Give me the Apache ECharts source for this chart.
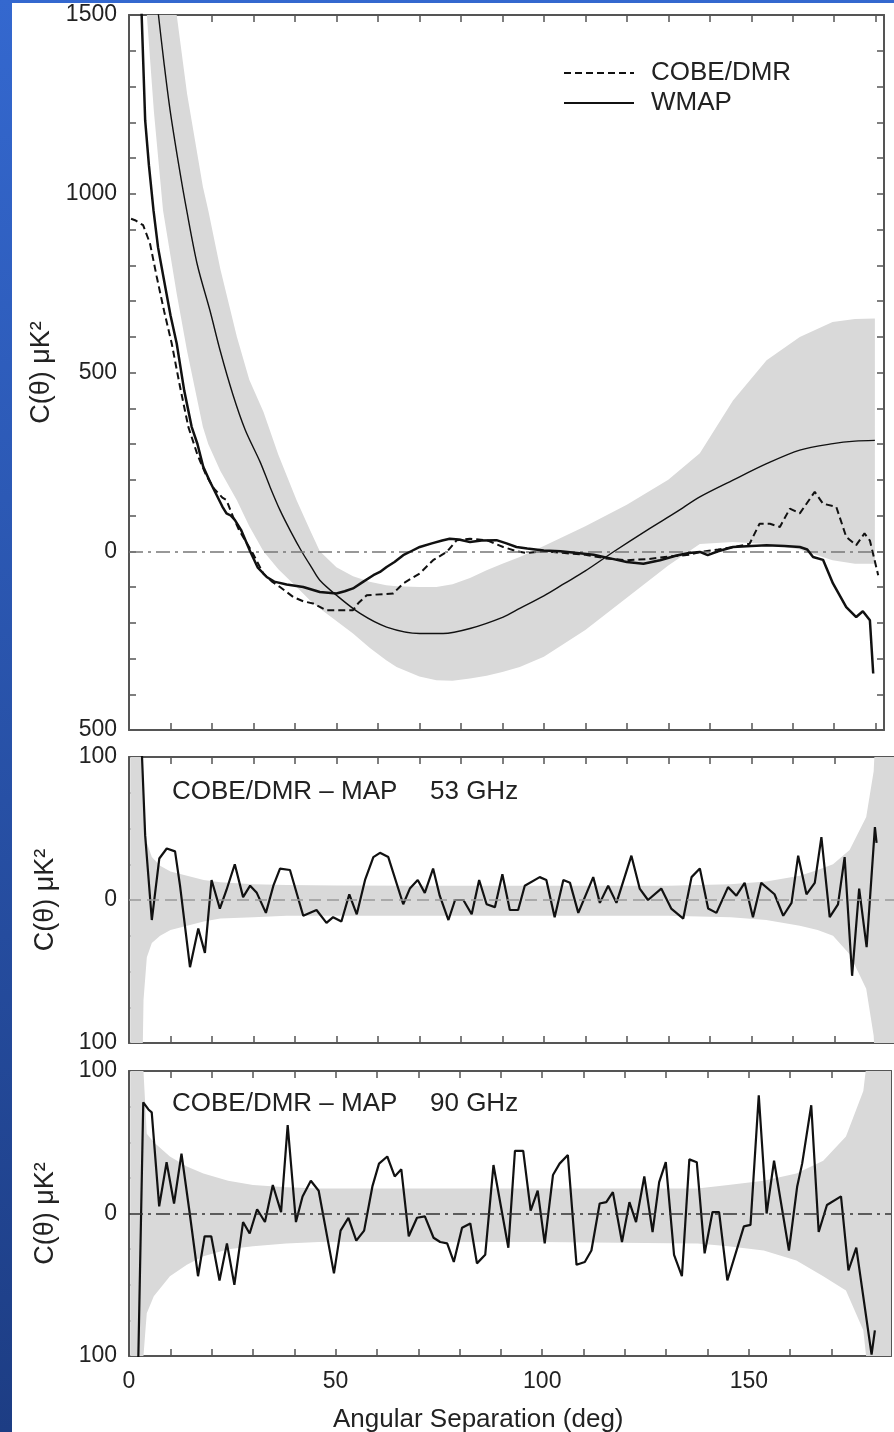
<!DOCTYPE html>
<html>
<head>
<meta charset="utf-8">
<script src="https://cdn.jsdelivr.net/npm/echarts@6/dist/echarts.min.js"></script>
<style>
  html, body { margin: 0; padding: 0; }
  body { width: 894px; height: 1432px; position: relative; overflow: hidden;
         background: linear-gradient(to bottom, #3468cf, #1d3d84); }
  #paper { position: absolute; left: 12px; top: 3px; right: 0; bottom: 0; background: #fff; }
  #chart { position: absolute; left: 0; top: 0; width: 894px; height: 1432px; }
</style>
</head>
<body>
<div id="paper"></div>
<div id="chart"></div>
<script>
// ---- top panel: correlation functions ----
const wmapX = [2.4, 3.05, 3.9, 4.8, 5.9, 7.0, 8.3, 10.0, 11.5, 13.3, 15.1, 16.5, 17.9, 19.5, 21.0, 22.5, 23.5, 24.5, 25.5, 27.0,
  29.2, 31.0, 33.2, 35.0, 38.0, 42.0, 46.0, 50.0, 52.0, 54.0, 56.5, 58.9, 60.5, 62.1, 64.0, 66.1, 68.0, 70.1, 73.0, 75.5,
  77.3, 79.5, 82.2, 85.0, 88.6, 91.0, 93.4, 96, 100, 104, 108, 112, 116, 120, 124, 128, 132, 135, 137.6, 139.5,
  142, 145.6, 150, 153.7, 158, 161.7, 163.5, 164.9, 167.3, 169.7, 172.9, 175.3, 176.9, 178.6, 179.4];
const wmapY = [1750, 1500, 1205, 1080, 954, 850, 767, 660, 581, 450, 348, 300, 236, 195, 160, 125, 106, 100, 88, 60,
  0, -45, -72, -85, -93, -100, -114, -118, -112, -104, -85, -67, -58, -44, -30, -11, 0, 12, 22, 30,
  35, 33, 26, 30, 31, 22, 12, 8, 2, 0, -5, -10, -20, -30, -35, -25, -12, -5, -2, -11,
  0, 12, 15, 17, 15, 12, 5, -16, -24, -90, -156, -184, -168, -193, -342];

const cobeX = [0.5, 1.45, 3.4, 5.06, 6.7, 8.5, 10.3, 12.3, 14.3, 16.5, 18.5, 20.5, 22.5, 23.5, 25.1, 26.5, 28, 29.6, 32.4, 34.5,
  36.4, 39.6, 42, 44.4, 47.6, 54, 55.3, 57.3, 63.7, 66.1, 70.1, 73.3, 76.6, 79, 82.2, 86.2, 90.2, 93.4, 96, 100,
  105, 110, 115, 120, 125, 130, 135, 137.6, 142, 146, 149.6, 152, 154.5, 156.9, 159.3, 161.7, 165.3, 167.3, 170.5, 172.9,
  175.3, 177.3, 178.6, 180.6];
const cobeY = [930, 926, 912, 861, 767, 670, 581, 460, 348, 270, 215, 175, 150, 143, 96, 60, 30, 0, -63, -85,
  -100, -128, -140, -146, -165, -165, -145, -123, -118, -90, -62, -25, -2, 31, 35, 31, 12, 0, -5, 0,
  -5, -10, -20, -25, -22, -15, -10, -2, 5, 12, 21, 77, 77, 68, 119, 106, 166, 133, 124, 40,
  17, 50, 30, -67];

const modelX = [6, 7.1, 8.5, 9.9, 12, 13.9, 16.5, 19.5, 22, 25, 28, 31.6, 34, 36.4, 39, 41.6, 44, 46, 50, 55.7,
  62.1, 70.1, 75.7, 82.2, 90.2, 94.2, 100, 105, 110, 117, 125, 132, 137.6, 145.6, 153.7, 161.7, 169.7, 175, 179.8];
const modelY = [1615, 1500, 1360, 1234, 1080, 954, 800, 674, 560, 440, 340, 250, 180, 115, 55, 0, -45, -81, -123, -174,
  -212, -230, -230, -216, -184, -160, -125, -90, -55, 0, 60, 110, 152, 199, 245, 283, 301, 308, 310];

const bandX = [4.3, 6, 8.2, 11.5, 14, 17.8, 19.1, 22, 26, 29, 32.4, 36, 40.4, 43.6, 46, 50, 54, 58, 62, 64.5,
  70, 74.1, 78, 82.2, 86.2, 90, 94.2, 100, 110, 120, 130, 137.6, 145.6, 153.7, 161.7, 169.6, 175, 179.8];
const bandLow = [1500, 1230, 954, 720, 560, 348, 300, 225, 143, 70, 0, -50, -100, -137, -160, -195, -230, -270, -305, -324,
  -350, -361, -362, -356, -348, -338, -324, -295, -220, -130, -40, 20, 26, 20, 5, -25, -35, -35];
const bandHigh = [2600, 2300, 1950, 1500, 1280, 1020, 954, 790, 600, 480, 390, 270, 143, 60, 0, -45, -70, -85, -95, -98,
  -100, -100, -92, -75, -53, -35, -16, 15, 70, 130, 200, 274, 422, 534, 599, 641, 650, 651];

// ---- middle panel: COBE/DMR - MAP 53 GHz ----
const d53X = [3.0, 3.9, 5.5, 7.3, 9.1, 11.1, 12.3, 14.7, 16.7, 18.3, 19.9, 21.9, 23.5, 25.5, 27.5, 29.2, 30.8, 33, 34.8, 36.4,
  38.8, 42, 45.2, 47.6, 49.2, 51.2, 53.1, 54.9, 56.9, 58.9, 60.5, 62.5, 66.1, 67.7, 69.6, 71.3, 73.3, 74.9, 77, 78.6,
  80.6, 82.6, 84.4, 86.2, 88.2, 90, 91.8, 93.8, 95.4, 99, 100.6, 102.6, 104.7, 106.3, 108.3, 111.9, 113.5, 115.5, 117.5, 121.1,
  123.1, 125.1, 128.3, 130.7, 133.6, 135.6, 137.6, 139.6, 141.6, 144.4, 146.4, 148.4, 150.4, 152.4, 155.6, 157.7, 159.7, 161.3, 163.3, 165.3,
  166.9, 168.9, 170.9, 172.5, 174.3, 176, 177.8, 179.8, 180.2];
const d53Y = [110, 45, -14, 29, 36, 34, 10, -47, -20, -37, 14, -6, 7, 25, 2, 10, 5, -9, 10, 22,
  21, -11, -7, -16, -12, -15, 4, -10, 14, 30, 33, 30, -3, 8, 14, 5, 22, 3, -14, 0,
  0, -10, 14, -3, -5, 18, -7, -7, 10, 16, 14, -12, 14, 12, -9, 16, -2, 10, -2, 31,
  8, 0, 8, -6, -13, 16, 22, -6, -9, 9, 3, 12, -12, 12, 4, -11, -2, 31, 4, 12,
  44, -12, -3, 30, -53, 8, -33, 51, 40];
const b53X = [0.3, 2.5, 3.0, 3.5, 4.3, 5.5, 7.5, 10, 14, 18, 22, 30, 38, 50, 70, 100, 130, 145, 153.6, 161.7,
  166, 169.7, 173.7, 177.7, 179.5, 180.5, 181.5, 182, 184.4];
const b53Up = [500, 400, 160, 70, 40, 30, 24, 20, 17, 14, 12.5, 11, 10.5, 10.2, 10, 10, 10, 11, 13, 17,
  21, 25, 35, 58, 90, 150, 400, 500, 500];
const b53Low = [-500, -400, -160, -70, -40, -30, -25, -21, -18, -15, -13, -12, -11, -11, -11, -11, -11, -12, -14, -18,
  -21, -25, -38, -62, -95, -150, -400, -500, -500];

// ---- bottom panel: COBE/DMR - MAP 90 GHz ----
const d90X = [2.0, 3.45, 4.7, 5.5, 7.3, 9.1, 10.9, 12.7, 14.7, 16.7, 18.3, 19.9, 21.9, 23.7, 25.5, 27.6, 29.2, 31, 32.9, 34.8,
  36.8, 38.4, 40.4, 42, 44, 45.9, 49.6, 51.2, 53.1, 55, 56.9, 58.9, 60.5, 62.5, 64.3, 65.9, 67.7, 69.7, 71.6, 73.7,
  75.3, 77, 78.6, 80.6, 82.6, 84.2, 86.2, 88.2, 91.8, 93.4, 95.4, 97.2, 98.9, 100.6, 102.6, 104.2, 106.2, 108.3, 110.3, 111.9,
  113.9, 115.5, 117.1, 119.3, 121.1, 122.7, 124.7, 126.7, 128.3, 129.9, 131.9, 133.8, 135.6, 137.4, 139.3, 141.2, 142.8, 144.8, 148.8, 150.4,
  152.4, 154.3, 156.1, 159.7, 161.7, 162.9, 165.1, 166.9, 168.9, 172.3, 174.1, 176, 179.7, 180.5];
const d90Y = [-140, 78, 73, 71, 5, 36, 7, 42, 0, -44, -16, -16, -47, -21, -50, -6, -14, 3, -6, 20,
  1, 62, -6, 12, 23, 16, -42, -12, -3, -19, -12, 19, 35, 40, 26, 31, -16, -3, -2, -17,
  -20, -21, -34, -10, -7, -35, -29, 34, -24, 44, 44, 2, 16, -21, 27, 35, 41, -36, -34, -26,
  7, 8, 15, -20, 8, -6, 26, -13, 22, 36, -29, -44, 38, 36, -28, 1, 1, -47, -9, -8,
  83, 0, 37, -26, 19, 35, 76, -13, 6, 12, -40, -24, -99, -82];
const b90X = [0.3, 2.5, 3.0, 3.5, 4.3, 6, 9.9, 14, 18, 24, 30, 38, 46, 60, 100, 137.6, 145, 153.6, 161.5, 168,
  173.5, 177.7, 179.5, 180.5, 181.5, 182, 184.4];
const b90Up = [500, 400, 180, 100, 56, 50, 40, 33, 28, 23, 20, 18.5, 17.5, 17.5, 17.5, 17.5, 20, 23, 28, 37,
  54, 86, 130, 220, 400, 500, 500];
const b90Low = [-500, -400, -180, -100, -70, -58, -44, -36, -30, -25, -23, -21, -20, -20, -20, -21, -23, -26, -33, -44,
  -54, -82, -130, -220, -400, -500, -500];

const font = "'Liberation Sans', Arial, sans-serif";
const ink = '#222';
const frame = '#555';
const bandColor = '#d9d9d9';

const pairs = (xs, ys) => xs.map((x, i) => [x, ys[i]]);

// the two lower panels run a little further right, cut by the page edge
const grids = [
  { left: 129, top: 15, width: 755, height: 715 },
  { left: 129, top: 757, width: 765, height: 286 },
  { left: 129, top: 1071, width: 765, height: 285 }
];
const xMax = [182, 184.4, 184.4];

const xAxes = [];
const yAxes = [];
const yRanges = [
  { min: -500, max: 1500, interval: 100, major: 500 },
  { min: -100, max: 100, interval: 25, major: 100 },
  { min: -100, max: 100, interval: 25, major: 100 }
];
grids.forEach((g, i) => {
  ['bottom', 'top'].forEach(pos => {
    xAxes.push({
      type: 'value', gridIndex: i, position: pos, min: 0, max: xMax[i], interval: 10,
      axisLine: { onZero: false, lineStyle: { color: frame, width: 2 } },
      axisTick: { inside: true, length: 7, lineStyle: { color: frame, width: 1.5 } },
      splitLine: { show: false },
      axisLabel: {
        show: i === 2 && pos === 'bottom', margin: 14, fontSize: 23, color: ink, fontFamily: font,
        formatter: v => (v % 50 === 0 ? String(v) : '')
      }
    });
  });
  const r = yRanges[i];
  ['left', 'right'].forEach(pos => {
    yAxes.push({
      type: 'value', gridIndex: i, position: pos, min: r.min, max: r.max, interval: r.interval,
      name: pos === 'left' ? 'C(θ) μK²' : '', nameLocation: 'middle', nameGap: 70,
      nameTextStyle: { fontSize: 27, color: ink, fontFamily: font },
      axisLine: { onZero: false, lineStyle: { color: frame, width: 2 } },
      axisTick: { inside: true, length: 7, lineStyle: { color: frame, width: 1.5 } },
      splitLine: { show: false },
      axisLabel: {
        show: pos === 'left', margin: 12, fontSize: 23, color: ink, fontFamily: font,
        formatter: v => (v % r.major === 0 ? String(Math.abs(v)) : '')
      }
    });
  });
});

// shaded band: lower edge plus (upper - lower) stacked on it.
// value is put in dimension 0 so that the stack runs along y, not x.
function band(idx, xs, lo, hi, key) {
  const base = { type: 'line', xAxisIndex: idx * 2, yAxisIndex: idx * 2, stack: key, stackStrategy: 'all',
    encode: { x: 1, y: 0 }, symbol: 'none', silent: true, lineStyle: { width: 0, opacity: 0 }, z: 1 };
  return [
    Object.assign({}, base, { data: xs.map((x, i) => [lo[i], x]) }),
    Object.assign({}, base, { data: xs.map((x, i) => [hi[i] - lo[i], x]),
      areaStyle: { color: bandColor, opacity: 1 } })
  ];
}
function zeroLine(color, type) {
  return { silent: true, symbol: ['none', 'none'], label: { show: false },
    lineStyle: { color: color, width: 1.5, type: type }, data: [{ yAxis: 0 }] };
}

const series = [
  ...band(0, bandX, bandLow, bandHigh, 'top'),
  { type: 'line', name: 'model', xAxisIndex: 0, yAxisIndex: 0, data: pairs(modelX, modelY), symbol: 'none',
    smooth: 0.3, lineStyle: { color: '#111', width: 1.4 }, z: 3,
    markLine: zeroLine('#777', [14, 5, 3, 5]) },
  { type: 'line', name: 'COBE/DMR', xAxisIndex: 0, yAxisIndex: 0, data: pairs(cobeX, cobeY), symbol: 'none',
    itemStyle: { color: '#111' }, lineStyle: { color: '#111', width: 2, type: [7, 4] }, z: 4 },
  { type: 'line', name: 'WMAP', xAxisIndex: 0, yAxisIndex: 0, data: pairs(wmapX, wmapY), symbol: 'none',
    itemStyle: { color: '#111' }, lineStyle: { color: '#111', width: 2.5 }, z: 5 },

  ...band(1, b53X, b53Low, b53Up, 'mid'),
  { type: 'line', name: '53 GHz', xAxisIndex: 2, yAxisIndex: 2, data: pairs(d53X, d53Y), symbol: 'none',
    lineStyle: { color: '#111', width: 2.2 }, z: 4,
    markLine: zeroLine('#999', [12, 6]) },

  ...band(2, b90X, b90Low, b90Up, 'bot'),
  { type: 'line', name: '90 GHz', xAxisIndex: 4, yAxisIndex: 4, data: pairs(d90X, d90Y), symbol: 'none',
    lineStyle: { color: '#111', width: 2.2 }, z: 4,
    markLine: zeroLine('#333', [14, 5, 3, 5]) }
];

const chart = echarts.init(document.getElementById('chart'));
chart.setOption({
  animation: false,
  backgroundColor: 'transparent',
  grid: grids,
  xAxis: xAxes,
  yAxis: yAxes,
  legend: {
    data: ['COBE/DMR', 'WMAP'], orient: 'vertical', left: 558, top: 55,
    itemWidth: 70, itemHeight: 14, itemGap: 4,
    itemStyle: { opacity: 0 },
    textStyle: { fontSize: 26, color: ink, fontFamily: font, padding: [0, 0, 0, 12] }
  },
  graphic: [
    { type: 'text', z: 100, left: 172, top: 779, style: { text: 'COBE/DMR – MAP', font: '26px ' + font, fill: ink } },
    { type: 'text', z: 100, left: 430, top: 779, style: { text: '53 GHz', font: '26px ' + font, fill: ink } },
    { type: 'text', z: 100, left: 172, top: 1091, style: { text: 'COBE/DMR – MAP', font: '26px ' + font, fill: ink } },
    { type: 'text', z: 100, left: 430, top: 1091, style: { text: '90 GHz', font: '26px ' + font, fill: ink } },
    { type: 'text', z: 100, left: 333, top: 1407, style: { text: 'Angular Separation (deg)', font: '26px ' + font, fill: ink } }
  ],
  series: series
});
</script>
</body>
</html>
